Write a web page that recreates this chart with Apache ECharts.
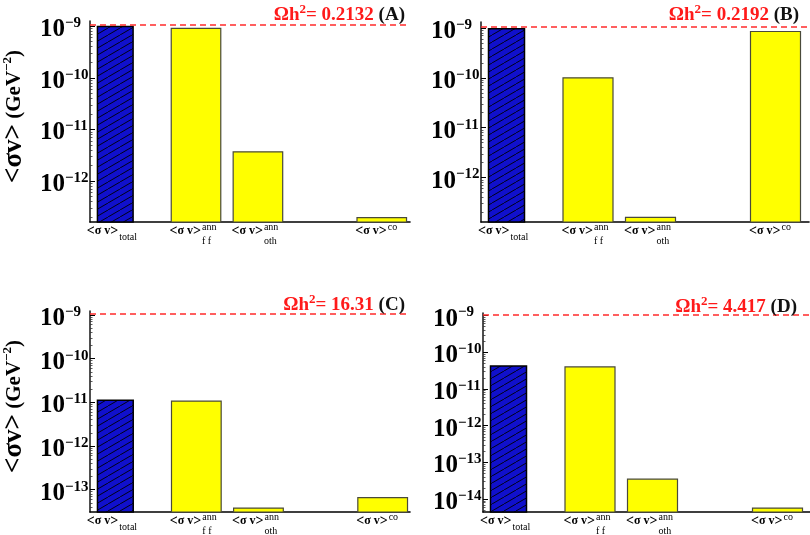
<!DOCTYPE html>
<html>
<head>
<meta charset="utf-8">
<script src="https://cdn.jsdelivr.net/npm/echarts@6/dist/echarts.min.js"></script>
<style>
  html, body { margin: 0; padding: 0; background: #fff; }
  #chart { width: 810px; height: 535px; }
</style>
</head>
<body>
<div id="chart"></div>
<script>
// bar order: total, ann f f, ann oth, co
const categories = ['total', 'ff', 'oth', 'co'];
const sigmaA = [9.8e-10, 9.1e-10, 3.7e-12, 1.97e-13];
const sigmaB = [9.7e-10, 1.0e-10, 1.6e-13, 8.5e-10];
const sigmaC = [1.12e-11, 1.07e-11, 3.8e-14, 6.6e-14];
const sigmaD = [4.2e-11, 4.0e-11, 3.5e-14, 5.7e-15];
const omegaH2 = ['0.2132', '0.2192', '16.31', '4.417'];
const panelTags = ['(A)', '(B)', '(C)', '(D)'];
const refSigma = 1.05e-9;

// y ticks (exponents of ten)
const decadesA = [-9, -10, -11, -12];
const decadesB = [-9, -10, -11, -12];
const decadesC = [-9, -10, -11, -12, -13];
const decadesD = [-9, -10, -11, -12, -13, -14];

// x label pieces
const labelSup = ['', 'ann', 'ann', 'co'];
const labelSub = ['total', 'f f', 'oth', ''];

const allSigma = [sigmaA, sigmaB, sigmaC, sigmaD];
const allDecades = [decadesA, decadesB, decadesC, decadesD];

// layout
const panels = [
  { left: 87, top: 21, width: 323, height: 201, yMin: -12.79, yMax: -8.9, titleRight: 405, titleTop: 3 },
  { left: 481, top: 22, width: 328, height: 200, yMin: -12.89, yMax: -8.88, titleRight: 11, titleTop: 3 },
  { left: 88, top: 311, width: 322, height: 201, yMin: -13.51, yMax: -8.91, titleRight: 405, titleTop: 293 },
  { left: 483, top: 313, width: 327, height: 199, yMin: -14.35, yMax: -8.93, titleRight: 13, titleTop: 295 }
];
const barCenters = [25.5, 107, 169.5, 294.5];
const barWidths = [36, 50, 50, 50];
const serif = 'Liberation Serif';

// hatch pattern for the total bar
const hatch = document.createElement('canvas');
hatch.width = 12;
hatch.height = 7;
(function () {
  const ctx = hatch.getContext('2d');
  ctx.fillStyle = '#1010cc';
  ctx.fillRect(0, 0, 12, 7);
  ctx.strokeStyle = '#000';
  ctx.lineWidth = 0.9;
  ctx.beginPath();
  ctx.moveTo(-12, 14); ctx.lineTo(24, -7);
  ctx.stroke();
})();

function minorTicks(p) {
  const out = [];
  for (let n = Math.floor(p.yMin); n <= Math.ceil(p.yMax); n++) {
    for (let k = 2; k <= 9; k++) {
      const v = n + Math.log10(k);
      if (v > p.yMin && v < p.yMax) out.push(v);
    }
  }
  return out;
}

function renderBar(params, api) {
  const i = params.dataIndex;
  const cs = params.coordSys;
  const top = api.coord([api.value(0), api.value(1)]);
  const baseY = cs.y + cs.height;
  const w = api.size([barWidths[i], 0])[0];
  const cx = top[0];
  const isTotal = i === 0;
  const rect = {
    type: 'rect',
    shape: { x: cx - w / 2, y: top[1], width: w, height: baseY - top[1] },
    style: isTotal
      ? { fill: { image: hatch, repeat: 'repeat' }, stroke: '#000', lineWidth: 1.5 }
      : { fill: '#ffff00', stroke: '#4a4a3a', lineWidth: 1.2 }
  };
  const mainRight = cx + (isTotal ? 3 : 5);
  const children = [rect, {
    type: 'text',
    x: mainRight, y: baseY + 9,
    style: {
      text: '{a|<}{n|σ v}{a|>}',
      align: 'right', verticalAlign: 'middle',
      rich: {
        a: { fontSize: 14, fontWeight: 'bold', fontFamily: serif, fill: '#000' },
        n: { fontSize: 12, fontWeight: 'bold', fontFamily: serif, fill: '#000' }
      }
    }
  }];
  if (labelSup[i]) {
    children.push({
      type: 'text', x: mainRight + 1, y: baseY + 5,
      style: { text: labelSup[i], align: 'left', verticalAlign: 'middle', fontSize: 10, fontFamily: serif, fill: '#000' }
    });
  }
  if (labelSub[i]) {
    children.push({
      type: 'text', x: mainRight + 1, y: baseY + (isTotal ? 15.5 : 19),
      style: { text: labelSub[i], align: 'left', verticalAlign: 'middle', fontSize: 10, fontFamily: serif, fill: '#000' }
    });
  }
  return { type: 'group', children: children };
}

const chart = echarts.init(document.getElementById('chart'), null, { renderer: 'canvas' });

const grid = panels.map(p => ({ left: p.left, top: p.top, width: p.width, height: p.height }));

const xAxis = panels.map((p, i) => ({
  type: 'value', gridIndex: i, min: 0, max: p.width,
  axisLine: { show: true, onZero: false, lineStyle: { color: '#000', width: 1.6 } },
  axisTick: { show: false }, axisLabel: { show: false }, splitLine: { show: false }
}));

const yAxis = [];
panels.forEach((p, i) => {
  const withName = i === 0 || i === 2;
  yAxis.push({
    type: 'value', gridIndex: i, position: 'left', min: p.yMin, max: p.yMax,
    name: withName ? '{m|<σv>}{u| (GeV}{us|−2}{u|)}' : '',
    nameLocation: 'middle', nameRotate: 90, nameGap: 62,
    nameTextStyle: {
      padding: [0, 0, 0, 10],
      rich: {
        m: { fontSize: 27, fontWeight: 'bold', fontFamily: serif, color: '#000' },
        u: { fontSize: 21, fontWeight: 'bold', fontFamily: serif, color: '#000' },
        us: { fontSize: 13, fontWeight: 'bold', fontFamily: serif, color: '#000', verticalAlign: 'top' }
      }
    },
    axisLine: { show: true, lineStyle: { color: '#222', width: 1.6 } },
    axisTick: { show: true, inside: true, length: 5, customValues: allDecades[i], lineStyle: { color: '#000', width: 1 } },
    axisLabel: {
      customValues: allDecades[i], align: 'left', margin: 50, padding: [7, 0, 0, 0],
      formatter: v => '{b|10}{s|−' + Math.round(-v) + '}',
      rich: {
        b: { fontSize: 25, fontWeight: 'bold', fontFamily: serif, color: '#000', lineHeight: 28 },
        s: { fontSize: 15, fontWeight: 'bold', fontFamily: serif, color: '#000', verticalAlign: 'top' }
      }
    },
    splitLine: { show: false }
  });
});
panels.forEach((p, i) => {
  yAxis.push({
    type: 'value', gridIndex: i, position: 'left', min: p.yMin, max: p.yMax,
    axisLine: { show: false },
    axisTick: { show: true, inside: true, length: 2.5, customValues: minorTicks(p), lineStyle: { color: '#333', width: 0.8 } },
    axisLabel: { show: false }, splitLine: { show: false }
  });
});

const series = panels.map((p, i) => ({
  type: 'custom',
  xAxisIndex: i, yAxisIndex: i,
  renderItem: renderBar,
  data: allSigma[i].map((v, k) => [barCenters[k], Math.log10(v)]),
  markLine: {
    silent: true, symbol: ['none', 'none'], animation: false,
    label: { show: false },
    lineStyle: { color: '#ff2b2b', type: [6, 4], width: 1.6 },
    data: [{ yAxis: Math.log10(refSigma) }]
  }
}));

const title = panels.map((p, i) => ({
  text: '{r|Ωh}{sup|2}{r|= ' + omegaH2[i] + '}{k| ' + panelTags[i] + '}',
  right: p.titleRight, top: p.titleTop, padding: 0,
  textStyle: {
    rich: {
      r: { fontSize: 19, fontWeight: 'bold', fontFamily: serif, color: '#ff1a1a', lineHeight: 24 },
      sup: { fontSize: 13, fontWeight: 'bold', fontFamily: serif, color: '#ff1a1a', verticalAlign: 'top', lineHeight: 13 },
      k: { fontSize: 19, fontWeight: 'bold', fontFamily: serif, color: '#111', lineHeight: 24 }
    }
  }
}));

chart.setOption({
  animation: false,
  backgroundColor: '#fff',
  title: title,
  grid: grid,
  xAxis: xAxis,
  yAxis: yAxis,
  series: series
});
</script>
</body>
</html>
